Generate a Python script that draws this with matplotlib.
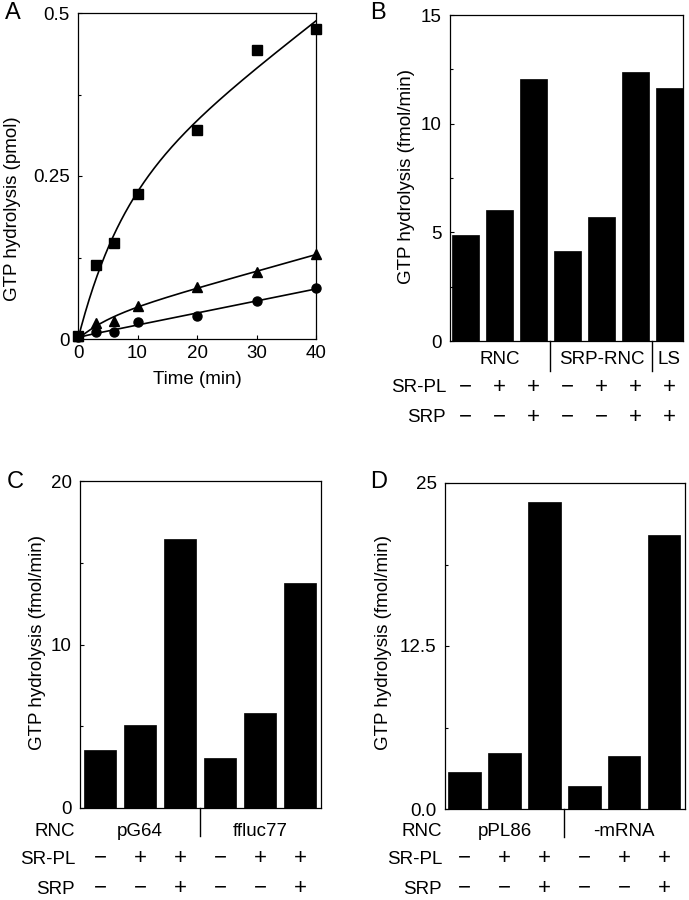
import numpy as np
import matplotlib
matplotlib.use("Agg")
import matplotlib.pyplot as plt
from matplotlib.transforms import blended_transform_factory

plt.rcParams['font.family'] = ['Liberation Sans', 'DejaVu Sans']

# ---------------- data ----------------
# Panel A: time course
time_min = [0, 3, 6, 10, 20, 30, 40]
gtp_square = [0.005, 0.113, 0.148, 0.223, 0.320, 0.443, 0.475]
gtp_triangle = [0.005, 0.025, 0.028, 0.050, 0.080, 0.102, 0.130]
gtp_circle = [0.003, 0.011, 0.010, 0.026, 0.035, 0.059, 0.078]

# Panel B
b_values = [4.87, 6.05, 12.06, 4.15, 5.69, 12.38, 11.66]
b_groups = ["RNC", "SRP-RNC", "LS"]
b_group_sizes = [3, 3, 1]
b_srpl = ["−", "+", "+", "−", "+", "+", "+"]
b_srp = ["−", "−", "+", "−", "−", "+", "+"]

# Panel C
c_values = [3.53, 5.07, 16.45, 3.06, 5.82, 13.78]
c_groups = ["pG64", "ffluc77"]
c_srpl = ["−", "+", "+", "−", "+", "+"]
c_srp = ["−", "−", "+", "−", "−", "+"]

# Panel D
d_values = [2.81, 4.29, 23.54, 1.79, 4.09, 20.98]
d_groups = ["pPL86", "-mRNA"]
d_srpl = ["−", "+", "+", "−", "+", "+"]
d_srp = ["−", "−", "+", "−", "−", "+"]

W, H = 689, 900
FS = 13.5
FS_SIGN = 16
fig = plt.figure(figsize=(W / 100, H / 100), dpi=100)


def add_ax(left, right, top, bottom):
    return fig.add_axes([left / W, 1 - bottom / H, (right - left) / W, (bottom - top) / H])


def style(ax):
    for s in ax.spines.values():
        s.set_linewidth(0.9)
    ax.tick_params(direction='in', length=3, width=0.8, labelsize=FS, pad=6)
    ax.tick_params(which='minor', direction='in', length=2, width=0.8)


def fy(ypx):
    return 1 - ypx / H


def fx(xpx):
    return xpx / W


# ---------------- Panel A ----------------
axA = add_ax(78, 316, 13, 339)
style(axA)
axA.set_xlim(0, 40)
axA.set_ylim(0, 0.5)
axA.set_xticks([0, 10, 20, 30, 40])
axA.set_yticks([0, 0.25, 0.5])
axA.set_yticklabels(["0", "0.25", "0.5"])
axA.set_yticks([0.125, 0.375], minor=True)
axA.tick_params(axis='x', pad=4)


def fit_curve(t, y):
    t = np.asarray(t, float)
    y = np.asarray(y, float)
    best = None
    for tau in np.linspace(0.5, 60, 400):
        X = np.column_stack([1 - np.exp(-t / tau), t])
        coef, *_ = np.linalg.lstsq(X, y, rcond=None)
        err = np.sum((X @ coef - y) ** 2)
        if best is None or err < best[0]:
            best = (err, tau, coef)
    _, tau, coef = best
    ts = np.linspace(0, 40, 300)
    return ts, coef[0] * (1 - np.exp(-ts / tau)) + coef[1] * ts


for ys, mk, ms in [(gtp_square, 's', 6.5), (gtp_triangle, '^', 7), (gtp_circle, 'o', 6.5)]:
    ts, yf = fit_curve(time_min, ys)
    axA.plot(ts, yf, color='black', lw=1.2)
    axA.plot(time_min, ys, linestyle='none', marker=mk, ms=ms, color='black', clip_on=False)

fig.text(fx(197), fy(380), "Time (min)", ha='center', va='center', fontsize=FS)
fig.text(fx(13), fy(209), "GTP hydrolysis (pmol)", rotation=90, ha='center', va='center', fontsize=FS)
fig.text(fx(13), fy(13), "A", ha='center', va='center', fontsize=17)


# ---------------- bar panels ----------------
def bar_panel(box, values, ymax, yticks, yticklabels, yminor, xlim, letter, letter_pos, ylab_pos):
    ax = add_ax(*box)
    style(ax)
    x = np.arange(len(values))
    ax.bar(x, values, width=0.81, color='black', edgecolor='black', linewidth=0.5)
    ax.set_xlim(*xlim)
    ax.set_ylim(0, ymax)
    ax.set_xticks([])
    ax.set_yticks(yticks)
    ax.set_yticklabels(yticklabels)
    ax.set_yticks(yminor, minor=True)
    fig.text(fx(ylab_pos[0]), fy(ylab_pos[1]), "GTP hydrolysis (fmol/min)", rotation=90,
             ha='center', va='center', fontsize=FS)
    fig.text(fx(letter_pos[0]), fy(letter_pos[1]), letter, ha='center', va='center', fontsize=17)
    return ax


def sign_rows(ax, rows, label_x, row_ys):
    tr = blended_transform_factory(ax.transData, fig.transFigure)
    for (label, signs), yv in zip(rows, row_ys):
        fig.text(fx(label_x), fy(yv), label, ha='right', va='center', fontsize=FS)
        for i, s in enumerate(signs):
            ax.text(i, fy(yv) + 0.001, s, transform=tr, ha='center', va='center',
                    fontsize=FS_SIGN, clip_on=False)


def separators(ax, xs, y0, y1):
    tr = blended_transform_factory(ax.transData, fig.transFigure)
    for xv in xs:
        ax.plot([xv, xv], [fy(y0), fy(y1)], transform=tr, color='black', lw=1.0, clip_on=False)


# Panel B
axB = bar_panel((450, 683, 15, 341), b_values, 15, [0, 5, 10, 15], ["0", "5", "10", "15"],
                [2.5, 7.5, 12.5], (-0.45, 6.4), "B", (378, 13), (407, 177))
trB = blended_transform_factory(axB.transData, fig.transFigure)
start = 0
for g, n in zip(b_groups, b_group_sizes):
    axB.text(start + (n - 1) / 2, fy(360), g, transform=trB, ha='center', va='center', fontsize=FS)
    start += n
separators(axB, [2.5, 5.5], 341, 371)
sign_rows(axB, [("SR-PL", b_srpl), ("SRP", b_srp)], 446, [388, 418])

# Panel C
axC = bar_panel((80, 321, 481, 808), c_values, 20, [0, 10, 20], ["0", "10", "20"],
                [5, 15], (-0.5, 5.52), "C", (15, 482), (38, 643))
trC = blended_transform_factory(axC.transData, fig.transFigure)
for i, g in enumerate(c_groups):
    axC.text(1 + 3 * i, fy(832), g, transform=trC, ha='center', va='center', fontsize=FS)
fig.text(fx(75), fy(832), "RNC", ha='right', va='center', fontsize=FS)
separators(axC, [2.5], 808, 836)
sign_rows(axC, [("SR-PL", c_srpl), ("SRP", c_srp)], 75, [859, 889])

# Panel D
axD = bar_panel((445, 685, 483, 809), d_values, 25, [0, 12.5, 25], ["0.0", "12.5", "25"],
                [6.25, 18.75], (-0.49, 5.52), "D", (379, 482), (383, 643))
trD = blended_transform_factory(axD.transData, fig.transFigure)
for i, g in enumerate(d_groups):
    axD.text(1 + 3 * i, fy(832), g, transform=trD, ha='center', va='center', fontsize=FS)
fig.text(fx(442), fy(832), "RNC", ha='right', va='center', fontsize=FS)
separators(axD, [2.5], 809, 837)
sign_rows(axD, [("SR-PL", d_srpl), ("SRP", d_srp)], 442, [859, 889])

fig.savefig("out.png", dpi=100)
